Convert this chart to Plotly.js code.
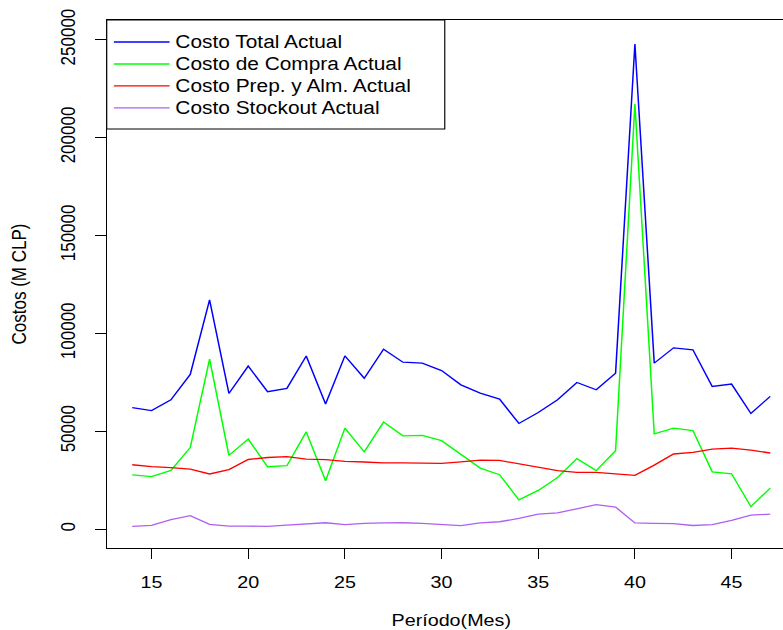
<!DOCTYPE html>
<html>
<head>
<meta charset="utf-8">
<script src="https://cdn.plot.ly/plotly-3.0.1.min.js"></script>
<style>
html, body { margin:0; padding:0; overflow:hidden; background:#fff; width:783px; height:630px; }
#wrap { transform: scaleX(1.16); transform-origin: 0 0; width:692px; height:630px; }
</style>
</head>
<body>
<div id="wrap"><div id="chart"></div></div>
<script>
const periods = [14,15,16,17,18,19,20,21,22,23,24,25,26,27,28,29,30,31,32,33,34,35,36,37,38,39,40,41,42,43,44,45,46,47];
const costoTotal = [62100,60600,66100,79000,117100,69300,83300,70200,71900,88400,63900,88500,77100,91900,85300,84800,81000,73700,69500,66400,54000,59600,66100,74900,71200,79700,247700,84800,92600,91600,72900,74100,59100,67800];
const costoCompra = [27700,26800,30000,41700,86800,37700,46000,31900,32400,49700,24700,51600,39500,54700,47700,47900,45200,38000,31200,27800,15000,19800,26400,36000,29900,40100,217100,48700,51600,50400,29300,28300,11500,21000];
const costoPrepAlm = [32900,31900,31400,30700,28200,30400,35600,36600,37100,35800,35500,34600,34300,33900,33900,33900,33600,34400,35300,35100,33400,31900,29900,29000,29000,28200,27500,32700,38400,39200,40900,41400,40400,38900];
const costoStockout = [1400,1900,4900,6900,2500,1600,1600,1400,2100,2800,3300,2300,3000,3200,3300,3000,2500,1800,3200,3800,5500,7700,8300,10300,12500,11300,3200,3000,2800,1900,2300,4500,7200,7700];
const seriesNames = ['Costo Total Actual','Costo de Compra Actual','Costo Prep. y Alm. Actual','Costo Stockout Actual'];
const seriesColors = ['#0000FF','#00FF00','#FF0000','#B060F0'];
const xTicks = [15,20,25,30,35,40,45];
const yTicks = [0,50000,100000,150000,200000,250000];

const allSeries = [costoTotal, costoCompra, costoPrepAlm, costoStockout];
const traces = allSeries.map((ys, i) => ({
  x: periods, y: ys, type: 'scatter', mode: 'lines',
  name: '<span style="font-size:18px">' + seriesNames[i] + '</span>',
  line: {color: seriesColors[i], width: 1.3}
}));

const font = {family: '"Liberation Sans", Arial, sans-serif', color: '#000'};
const layout = {
  width: 692, height: 630,
  margin: {l: 92.24, r: 5.8, t: 20, b: 82},
  paper_bgcolor: '#fff', plot_bgcolor: '#fff',
  font: Object.assign({size: 17}, font),
  showlegend: true,
  legend: {
    x: 0.002, y: 0.9886, xanchor: 'left', yanchor: 'top',
    bgcolor: 'rgba(0,0,0,0)', borderwidth: 0,
    font: Object.assign({size: 14.6}, font),
    itemwidth: 48
  },
  shapes: [{
    type: 'rect', xref: 'paper', yref: 'paper',
    x0: 0, x1: 0.4906, y0: 0.7936, y1: 1,
    fillcolor: '#fff', line: {color: '#000', width: 1}, layer: 'above'
  }],
  xaxis: {
    range: [12.68, 48.32], tickvals: xTicks, ticktext: xTicks.map(String),
    showgrid: false, zeroline: false, showline: true, mirror: true,
    linecolor: '#000', linewidth: 1,
    ticks: 'outside', ticklen: 10, tickcolor: '#000', tickwidth: 1,
    ticklabelstandoff: 9,
    tickfont: Object.assign({size: 17}, font),
    title: {text: 'Período(Mes)', font: Object.assign({size: 17}, font), standoff: 22}
  },
  yaxis: {
    range: [-9600, 260000], tickvals: yTicks, ticktext: yTicks.map(String),
    showgrid: false, zeroline: false, showline: true, mirror: true,
    linecolor: '#000', linewidth: 1,
    ticks: 'outside', ticklen: 9.5, tickcolor: '#000', tickwidth: 1,
    tickangle: -90, ticklabelstandoff: 10,
    tickfont: Object.assign({size: 17}, font),
    title: {text: 'Costos (M CLP)', font: Object.assign({size: 17}, font), standoff: 22}
  }
};
Plotly.newPlot('chart', traces, layout, {displayModeBar: false, staticPlot: true});
</script>
</body>
</html>
